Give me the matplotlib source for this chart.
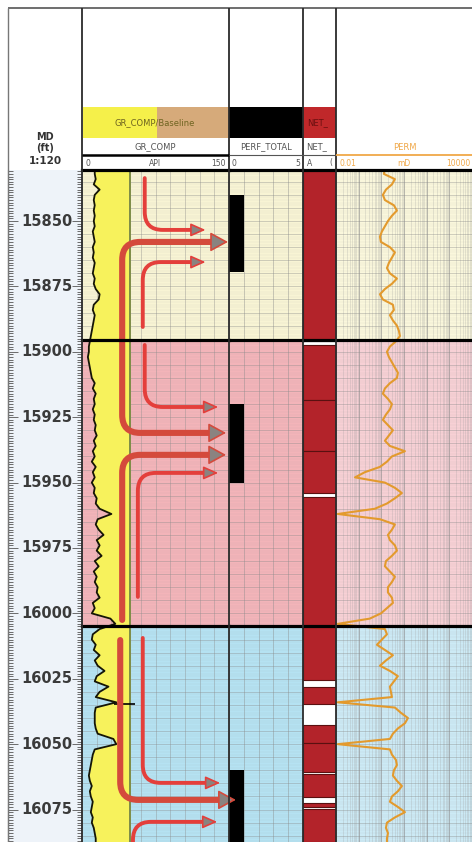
import numpy as np
import matplotlib.pyplot as plt
from matplotlib.patches import FancyArrowPatch, Rectangle
from matplotlib.ticker import MultipleLocator, LogLocator

W, H = 472, 842

# ---- log data (2 ft sampling) ----
depth = np.arange(15830, 16089, 2)
gr = [13, 13, 14, 12, 18, 13, 12, 13, 12, 13,
      12, 13, 11, 12, 13, 11, 12, 11, 13, 12,
      11, 13, 12, 14, 18, 17, 12, 11, 13, 12,
      11, 10, 9, 8, 7, 7, 6, 7, 8, 9,
      10, 13, 11, 14, 12, 13, 11, 13, 12, 14,
      13, 15, 12, 14, 11, 13, 10, 14, 11, 13,
      10, 13, 12, 15, 14, 18, 30, 16, 14, 17,
      22, 15, 18, 15, 20, 13, 17, 12, 15, 13,
      16, 15, 18, 11, 13, 10, 29, 34, 18, 11,
      10, 14, 12, 18, 13, 16, 23, 15, 13, 27,
      18, 14, 35, 14, 13, 13, 13, 14, 16, 32,
      35, 13, 11, 10, 9, 8, 7, 8, 10, 8,
      9, 11, 10, 9, 11, 10, 12, 13, 14, 14]
perm = [1.44, 1.30, 3.97, 2.93, 1.60, 1.17, 1.44, 3.59, 4.87, 2.93,
        1.96, 1.44, 1.06, 0.87, 0.96, 2.39, 3.97, 2.93, 2.16, 1.77,
        2.39, 4.87, 2.93, 1.44, 0.87, 1.17, 3.24, 3.59, 2.39, 3.24,
        4.87, 5.96, 6.59, 4.40, 2.39, 1.77, 2.16, 2.93, 3.97, 5.38,
        4.87, 2.39, 1.44, 1.17, 1.96, 2.93, 2.39, 1.60, 1.17, 1.96,
        3.24, 2.16, 1.44, 2.39, 11.0, 2.93, 1.77, 0.87, 0.19, 0.069,
        1.44, 3.97, 8.07, 3.97, 1.77, 0.52, 0.012, 0.87, 3.97, 2.93,
        1.96, 2.39, 3.97, 4.87, 2.93, 1.60, 1.44, 2.39, 3.97, 2.93,
        1.96, 1.96, 2.93, 3.24, 1.77, 0.96, 0.31, 0.012, 1.44, 1.77,
        1.06, 0.64, 1.44, 3.24, 1.60, 0.87, 2.39, 5.38, 3.59, 2.39,
        2.65, 2.93, 0.012, 3.97, 7.29, 14.9, 11.0, 5.38, 3.24, 2.39,
        0.012, 2.39, 2.93, 4.40, 4.87, 3.59, 3.24, 4.87, 8.07, 5.38,
        2.93, 2.39, 5.38, 11.0, 3.97, 1.77, 1.60, 1.96, 1.77, 1.77]

top_md, base_md = 15830.5, 16087.4
gr_baseline = 49
gr_flag_md = [16034.5]

zone_top = [15830.5, 15895.5, 16005.0]
zone_base = [15895.5, 16005.0, 16087.4]
zone_color = ['#f8f4d4', '#f3b4b9', '#b5e2f2']
zone_color_perm = ['#faf7dc', '#f7d0d5', '#cceaf5']

perf_top = [15840.0, 15920.0, 16060.0]
perf_base = [15869.5, 15950.2, 16090.0]
perf_total = [1, 1, 1]

net_top = [15830.5, 15897.5, 15918.4, 15938.0, 15955.5, 16005.0, 16028.0,
           16042.7, 16049.5, 16061.4, 16072.5, 16074.8]
net_base = [15896.0, 15918.4, 15938.0, 15954.0, 16005.0, 16025.5, 16034.8,
            16049.5, 16060.6, 16070.2, 16074.0, 16087.4]

depth_labels = [15850, 15875, 15900, 15925, 15950, 15975, 16000, 16025, 16050, 16075]

# flow arrows: start (API, MD) -> tip (API, MD)
arrow_x0 = [64, 41, 62, 64, 41, 41, 57, 39, 62, 52]
arrow_md0 = [15833.6, 15895.5, 15890.5, 15897.4, 15895.5, 16002.5, 15993.7, 16010.2, 16009.4, 16087.4]
arrow_x1 = [126, 149, 126, 139, 147, 147, 139, 157, 141, 138]
arrow_md1 = [15853.4, 15858.0, 15865.7, 15921.1, 15931.0, 15939.4, 15946.3, 16071.3, 16064.8, 16079.7]
arrow_heavy = [False, True, False, False, True, True, False, True, False, False]

fig = plt.figure(figsize=(W / 100, H / 100), dpi=100)


def add_track(x0, x1, z=1, y0=170):
    ax = fig.add_axes([x0 / W, 0, (x1 - x0) / W, (H - y0) / H], zorder=z)
    ax.set_facecolor('none')
    for s in ax.spines.values():
        s.set_visible(False)
    return ax


def finish(ax):
    ax.set_ylim(base_md, top_md)
    ax.tick_params(which='both', length=0, labelleft=False, labelbottom=False)


def shade_zones(ax, colors):
    for t, b, c in zip(zone_top, zone_base, colors):
        ax.axhspan(t, b, color=c, lw=0, zorder=0)


def depth_grid(ax):
    ax.yaxis.set_major_locator(MultipleLocator(5))
    ax.yaxis.set_minor_locator(MultipleLocator(1))
    ax.grid(axis='y', which='major', color='#8a8a8a', lw=0.5, alpha=0.55)
    ax.grid(axis='y', which='minor', color='#9a9a9a', lw=0.3, alpha=0.25)
    ax.set_axisbelow(True)


def zone_lines(ax):
    for t in zone_top:
        ax.axhline(t, color='black', lw=2.3, zorder=8, clip_on=False)


# ---- depth track ----
ax_d = fig.add_axes([8 / W, 0, 74 / W, (H - 170) / H], zorder=1)
ax_d.set_facecolor('#eef3f9')
ax_d.set_xlim(0, 1)
ax_d.set_ylim(base_md, top_md)
ax_d.set_xticks([])
ax_d.yaxis.set_major_locator(MultipleLocator(25))
ax_d.yaxis.set_minor_locator(MultipleLocator(1))
ax_d.tick_params(axis='y', which='both', left=True, right=True, direction='in',
                 labelleft=False, color='#555555', width=0.6)
ax_d.tick_params(axis='y', which='minor', length=3.5)
ax_d.tick_params(axis='y', which='major', length=7)
for side in ['top', 'bottom']:
    ax_d.spines[side].set_visible(False)
for side in ['left', 'right']:
    ax_d.spines[side].set_color('#666666')
for d in depth_labels:
    ax_d.text(0.87, d, f'{d}', transform=ax_d.get_yaxis_transform(), ha='right',
              va='center', fontsize=10.5, fontweight='bold', color='#3a3a3a')

# ---- GR track ----
ax_gr = add_track(82, 229, z=3)
ax_gr.set_xlim(0, 150)
shade_zones(ax_gr, zone_color)
ax_gr.xaxis.set_major_locator(MultipleLocator(15))
ax_gr.grid(axis='x', color='#8a8a8a', lw=0.6, alpha=0.45)
depth_grid(ax_gr)
ax_gr.fill_betweenx(depth, gr, gr_baseline, color='#f7f25c', lw=0, zorder=1)
ax_gr.axvline(gr_baseline, color='#7d8c48', lw=1.4, zorder=2)
ax_gr.plot(gr, depth, color='#151505', lw=1.3, zorder=3)
ax_gr.hlines(gr_flag_md, 33, 54, color='black', lw=1.2, zorder=3)

for xa, ya, xb, yb, heavy in zip(arrow_x0, arrow_md0, arrow_x1, arrow_md1, arrow_heavy):
    lw = 4.4 if heavy else 2.8
    col = '#d44a3c' if heavy else '#e43f3b'
    body = FancyArrowPatch((xa, ya), (xb - 9, yb), arrowstyle='-',
                           connectionstyle='angle,angleA=90,angleB=0,rad=18',
                           lw=lw, color=col, shrinkA=0, shrinkB=0, zorder=5, clip_on=False)
    ax_gr.add_patch(body)
    hl, hw = (0.55, 0.3) if heavy else (0.45, 0.2)
    head = FancyArrowPatch((xb - 12, yb), (xb, yb),
                           arrowstyle=f'-|>,head_length={hl},head_width={hw}',
                           mutation_scale=20, lw=1.2, ec=col, fc='#8a8380',
                           shrinkA=0, shrinkB=0, zorder=6, clip_on=False)
    ax_gr.add_patch(head)
zone_lines(ax_gr)
finish(ax_gr)

# ---- PERF_TOTAL track ----
ax_pf = add_track(229, 303, z=2)
ax_pf.set_xlim(0, 5)
shade_zones(ax_pf, zone_color)
ax_pf.xaxis.set_major_locator(MultipleLocator(1))
ax_pf.grid(axis='x', color='#8a8a8a', lw=0.6, alpha=0.5)
depth_grid(ax_pf)
for t, b, v in zip(perf_top, perf_base, perf_total):
    ax_pf.fill_betweenx([t, b], 0, v, color='black', lw=0, zorder=3)
zone_lines(ax_pf)
finish(ax_pf)

# ---- NET track ----
ax_net = add_track(303, 336, z=2)
ax_net.set_xlim(0, 1)
for t, b in zip(net_top, net_base):
    ax_net.add_patch(Rectangle((0, t), 1, b - t, fc='#b3232a', ec='#5a1010',
                               lw=0.8, zorder=2))
zone_lines(ax_net)
finish(ax_net)

# ---- PERM track ----
ax_pm = add_track(336, 472, z=2)
ax_pm.set_xscale('log')
ax_pm.set_xlim(0.01, 10000)
shade_zones(ax_pm, zone_color_perm)
ax_pm.xaxis.set_major_locator(LogLocator(base=10, numticks=12))
ax_pm.xaxis.set_minor_locator(LogLocator(base=10, subs=np.arange(2, 10), numticks=12))
ax_pm.grid(axis='x', which='major', color='#8a8a8a', lw=0.6, alpha=0.7)
ax_pm.grid(axis='x', which='minor', color='#a0a0a0', lw=0.4, alpha=0.45)
depth_grid(ax_pm)
ax_pm.plot(perm, depth, color='#e39a2d', lw=1.5, zorder=3)
zone_lines(ax_pm)
finish(ax_pm)

# ---- header and track borders ----
ov = fig.add_axes([0, 0, 1, 1], zorder=10)
ov.set_xlim(0, W)
ov.set_ylim(H, 0)
ov.axis('off')
ov.hlines(8, 8, W, color='#555555', lw=1.2)
ov.vlines(8, 8, H, color='#777777', lw=1.0)
ov.vlines([82, 229, 303, 336], 8, H, color='#2b2b2b', lw=1.3)

ov.add_patch(Rectangle((83, 107), 74, 31, color='#f5f04a', lw=0))
ov.add_patch(Rectangle((157, 107), 72, 31, color='#d6aa7a', lw=0))
ov.add_patch(Rectangle((229, 107), 74, 31, color='black', lw=0))
ov.add_patch(Rectangle((303, 107), 33, 31, color='#c0282a', lw=0))
ov.text(155, 123, 'GR_COMP/Baseline', ha='center', va='center', fontsize=6, color='#6e6420')
ov.text(307, 123, 'NET_', ha='left', va='center', fontsize=6, color='#6a1010')

ov.text(155, 147, 'GR_COMP', ha='center', va='center', fontsize=6, color='#555555')
ov.text(266, 147, 'PERF_TOTAL', ha='center', va='center', fontsize=6, color='#555555')
ov.text(306, 147, 'NET_', ha='left', va='center', fontsize=6, color='#555555')
ov.text(405, 147, 'PERM', ha='center', va='center', fontsize=6, color='#f0a848')

ov.hlines(155, 82, 229, color='black', lw=1.8)
ov.hlines(155, 229, 336, color='#555555', lw=0.8)
ov.hlines(155, 336, W, color='#f0a848', lw=1.3)

for x, s, ha in [(85, '0', 'left'), (155, 'API', 'center'), (226, '150', 'right'),
                 (232, '0', 'left'), (300, '5', 'right'), (307, 'A', 'left'),
                 (332, '(', 'right')]:
    ov.text(x, 163, s, ha=ha, va='center', fontsize=5.5, color='#555555')
for x, s, ha in [(340, '0.01', 'left'), (404, 'mD', 'center'), (470, '10000', 'right')]:
    ov.text(x, 163, s, ha=ha, va='center', fontsize=5.5, color='#f0a848')

ov.text(45, 137, 'MD', ha='center', va='center', fontsize=7, fontweight='bold', color='#333333')
ov.text(45, 148, '(ft)', ha='center', va='center', fontsize=7, fontweight='bold', color='#333333')
ov.text(45, 161, '1:120', ha='center', va='center', fontsize=7.5, fontweight='bold', color='#333333')

fig.savefig('out.png', dpi=100)
